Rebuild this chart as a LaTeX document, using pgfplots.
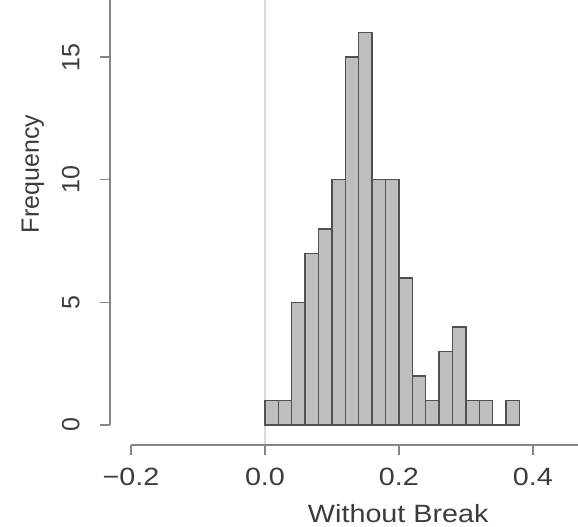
\documentclass[border=0pt]{standalone}
\usepackage{fontspec}
\setmainfont{Liberation Sans}
\newfontfamily\hfont[FakeStretch=1.15]{Liberation Sans}
\usepackage{pgfplots}
\pgfplotsset{compat=1.18}
\definecolor{barfill}{HTML}{BEBEBE}
\definecolor{baredge}{HTML}{505050}
\definecolor{axgray}{HTML}{858585}
\definecolor{txtgray}{HTML}{3C3C3C}
\definecolor{zeroline}{HTML}{DADADA}

\begin{document}
\begin{tikzpicture}
\begin{axis}[
  scale only axis,
  width=234pt, height=222.5pt,
  xmin=-0.2315, xmax=0.4675,
  ymin=-0.815, ymax=17.33,
  axis x line*=bottom, axis y line*=left,
  axis line style={draw=none},
  clip=false,
  xtick={-0.2,0,0.2,0.4},
  xticklabels={−0.2,0.0,0.2,0.4},
  ytick={0,5,10,15},
  yticklabels={0,5,10,15},
  tick align=outside,
  major tick length=5pt,
  tick style={draw=axgray, line width=0.7pt},
  xticklabel style={font=\hfont\fontsize{12.5}{15}\selectfont, text=txtgray, inner sep=0pt, yshift=-6.5pt},
  yticklabel style={font=\fontsize{12.5}{15}\selectfont, text=txtgray, rotate=90, anchor=south, inner sep=0pt, yshift=10pt},
  xlabel={Without Break},
  ylabel={Frequency},
  xlabel style={font=\hfont\fontsize{12.5}{15}\selectfont, text=txtgray, at={(rel axis cs:0.616,0)}, anchor=north, inner sep=0pt, yshift=-29.5pt},
  ylabel style={font=\fontsize{12.5}{15}\selectfont, text=txtgray, at={(rel axis cs:0,0.609)}, anchor=center, inner sep=0pt, yshift=38.5pt},
]
% abline at zero
\addplot[zeroline, line width=0.7pt] coordinates {(0,-0.815) (0,17.33)};
% histogram, bin width 0.02
\addplot[ybar interval, fill=barfill, draw=baredge, line width=0.7pt] coordinates {
  (0.00,1) (0.02,1) (0.04,5) (0.06,7) (0.08,8) (0.10,10) (0.12,15)
  (0.14,16) (0.16,10) (0.18,10) (0.20,6) (0.22,2) (0.24,1) (0.26,3)
  (0.28,4) (0.30,1) (0.32,1) (0.34,0) (0.36,1) (0.38,0)
};
% R-style axis lines
\draw[axgray, line width=0.7pt] (axis cs:-0.2,-0.815) -- (axis cs:0.4675,-0.815);
\draw[axgray, line width=0.7pt] (axis cs:-0.2315,0) -- (axis cs:-0.2315,17.33);
\coordinate (bl) at (rel axis cs:-0.235,-0.182);
\coordinate (tr) at (rel axis cs:1,1);
\end{axis}
\pgfresetboundingbox
\path[use as bounding box] (bl) rectangle (tr);
\end{tikzpicture}
\end{document}
